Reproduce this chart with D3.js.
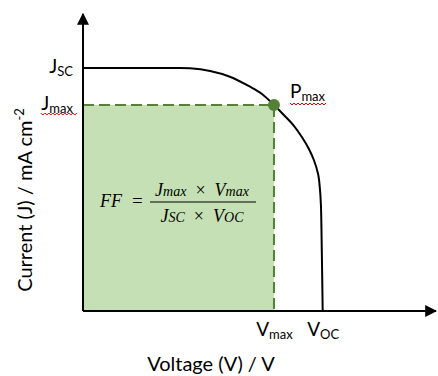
<!DOCTYPE html>
<html>
<head>
<meta charset="utf-8">
<script src="https://cdn.jsdelivr.net/npm/d3@7"></script>
<style>
  body { margin: 0; background: #fff; }
  text { font-family: Lato, "Open Sans", sans-serif; fill: #000; }
  text.math { font-family: "Liberation Serif", "DejaVu Serif", serif; font-style: italic; }
</style>
</head>
<body>
<div id="chart"></div>
<script>
// J-V curve (V, mA cm-2)
const voltage = [0, 0.246, 0.303, 0.360, 0.416, 0.473, 0.507, 0.541, 0.569, 0.598, 0.620, 0.640, 0.654, 0.666, 0.671, 0.674, 0.676, 0.679];
const current = [20.45, 20.45, 20.43, 20.2, 19.72, 18.88, 18.27, 17.34, 16.5, 15.57, 14.65, 13.64, 12.71, 11.53, 10.35, 8.92, 5.98, 0];

// key points
const jsc = 20.45, jmax = 17.34;
const vmax = 0.541, voc = 0.679;

// tick labels: [main, subscript]
const yTickLabels = [["J", "SC"], ["J", "max"]];
const xTickLabels = [["V", "max"], ["V", "OC"]];

const width = 438, height = 376;
const x0 = 83, y0 = 311;

const svg = d3.select("#chart")
    .append("svg")
    .attr("width", width)
    .attr("height", height);

const x = d3.scaleLinear().domain([0, 1]).range([x0, x0 + 353]);
const y = d3.scaleLinear().domain([0, 25]).range([y0, y0 - 297]);

const green = "#538135";

// arrow heads
const defs = svg.append("defs");
defs.append("marker")
    .attr("id", "arrow")
    .attr("viewBox", "0 0 10 10")
    .attr("refX", 9).attr("refY", 5)
    .attr("markerWidth", 6).attr("markerHeight", 6)
    .attr("markerUnits", "strokeWidth")
    .attr("orient", "auto")
  .append("path")
    .attr("d", "M0,0 L10,5 L0,10 Z")
    .attr("fill", "#000");

// shaded max power rectangle
svg.append("rect")
    .attr("x", x(0))
    .attr("y", y(jmax))
    .attr("width", x(vmax) - x(0))
    .attr("height", y(0) - y(jmax))
    .attr("fill", "#c5e0b4");

// dashed guides
svg.append("path")
    .attr("d", `M${x(0)},${y(jmax)} H${x(vmax)} V${y(0)}`)
    .attr("fill", "none")
    .attr("stroke", green)
    .attr("stroke-width", 2)
    .attr("stroke-dasharray", "11,5");

// J-V curve
const pts = voltage.map((v, i) => [v, current[i]]);
svg.append("path")
    .datum(pts)
    .attr("fill", "none")
    .attr("stroke", "#000")
    .attr("stroke-width", 2)
    .attr("d", d3.line().x(d => x(d[0])).y(d => y(d[1])).curve(d3.curveCatmullRom.alpha(0.5)));

// axes (lines with arrows)
svg.append("line")
    .attr("x1", x(0)).attr("y1", y(0))
    .attr("x2", x(0)).attr("y2", y(25))
    .attr("stroke", "#000").attr("stroke-width", 2)
    .attr("marker-end", "url(#arrow)");
svg.append("line")
    .attr("x1", x(0)).attr("y1", y(0))
    .attr("x2", x(1)).attr("y2", y(0))
    .attr("stroke", "#000").attr("stroke-width", 2)
    .attr("marker-end", "url(#arrow)");

// tick labels through d3 axes, then rewritten with subscripts
const yAxis = svg.append("g")
    .attr("transform", `translate(${x0},0)`)
    .call(d3.axisLeft(y).tickValues([jsc, jmax]).tickSize(0).tickPadding(10));
yAxis.select(".domain").remove();
yAxis.selectAll("text")
    .style("font-size", "19px")
    .style("font-family", "Lato, sans-serif")
    .attr("dy", "0.25em")
    .each(function (d, i) {
        const t = d3.select(this).text(null);
        t.append("tspan").text(yTickLabels[i][0]);
        t.append("tspan").text(yTickLabels[i][1]).style("font-size", "13px").attr("dy", "0.2em");
    });

const xAxis = svg.append("g")
    .attr("transform", `translate(0,${y0})`)
    .call(d3.axisBottom(x).tickValues([vmax, voc]).tickSize(0).tickPadding(8));
xAxis.select(".domain").remove();
xAxis.selectAll("text")
    .style("font-size", "19px")
    .style("font-family", "Lato, sans-serif")
    .attr("dy", "0.9em")
    .each(function (d, i) {
        const t = d3.select(this).text(null);
        t.append("tspan").text(xTickLabels[i][0]);
        t.append("tspan").text(xTickLabels[i][1]).style("font-size", "13px").attr("dy", "0.2em");
    });

// Pmax point and label
svg.append("circle")
    .attr("cx", x(vmax)).attr("cy", y(jmax))
    .attr("r", 6)
    .attr("fill", green);

const pLabel = svg.append("text")
    .attr("x", x(vmax) + 16)
    .attr("y", y(jmax) - 7)
    .style("font-size", "19px");
pLabel.append("tspan").text("P");
pLabel.append("tspan").text("max").style("font-size", "13px").attr("dy", "0.2em");

// red spell-check squiggles under Jmax and Pmax
function squiggle(x1, x2, yy) {
    let d = `M${x1},${yy}`;
    for (let xx = x1, k = 0; xx < x2; xx += 2, k++) {
        d += ` L${xx + 2},${yy + (k % 2 ? 0 : 2)}`;
    }
    svg.append("path")
        .attr("d", d)
        .attr("fill", "none")
        .attr("stroke", "#e00000")
        .attr("stroke-width", 1);
}
const jmaxText = yAxis.selectAll("text").nodes()[1];
const jb = jmaxText.getBBox();
squiggle(x0 - 10 - jb.width, x0 - 7, y(jmax) + 8);
const pb = pLabel.node().getBBox();
squiggle(pb.x, pb.x + pb.width, y(jmax) - 2);

// fill factor formula
const f = svg.append("g");
f.append("text").attr("class", "math").attr("x", 100).attr("y", 207).style("font-size", "18px").text("FF");
f.append("text").attr("class", "math").attr("x", 132).attr("y", 207).style("font-size", "19px").style("font-style", "normal").text("=");

function frac(txt, cx, yy) {
    const t = f.append("text")
        .attr("class", "math")
        .attr("x", cx).attr("y", yy)
        .attr("text-anchor", "middle")
        .style("font-size", "18px");
    txt.forEach(([s, sub, normal]) => {
        const a = t.append("tspan").text(s);
        if (normal) a.style("font-style", "normal");
        if (sub) t.append("tspan").text(sub).style("font-size", "14px");
    });
}
frac([["J", "max"], ["\u00a0\u00a0\u00d7\u00a0\u00a0", null, true], ["V", "max"]], 202, 196);
frac([["J", "SC"], ["\u00a0\u00a0\u00d7\u00a0\u00a0", null, true], ["V", "OC"]], 202, 222);
f.append("line")
    .attr("x1", 150).attr("x2", 256)
    .attr("y1", 202).attr("y2", 202)
    .attr("stroke", "#000").attr("stroke-width", 1);

// axis titles
svg.append("text")
    .attr("x", 211)
    .attr("y", 371)
    .attr("text-anchor", "middle")
    .style("font-size", "20px")
    .text("Voltage (V) / V");

const yl = svg.append("text")
    .attr("transform", "translate(32,200) rotate(-90)")
    .attr("text-anchor", "middle")
    .style("font-size", "20px");
yl.append("tspan").text("Current (J) / mA cm");
yl.append("tspan").text("-2").style("font-size", "13px").attr("dy", "-0.6em");
</script>
</body>
</html>
